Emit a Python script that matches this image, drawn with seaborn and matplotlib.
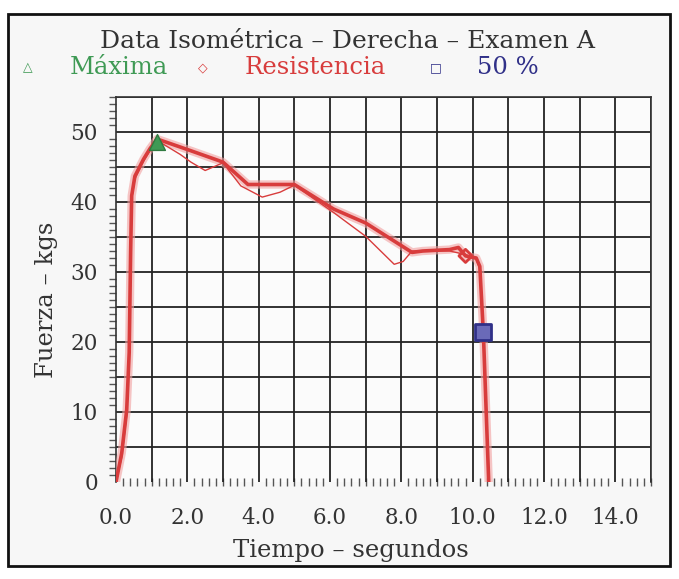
import numpy as np
import pandas as pd
import matplotlib
matplotlib.use("Agg")
import matplotlib.pyplot as plt
import seaborn as sns
from matplotlib.patches import Rectangle

# ---- data ----
t_main = [0, 0.05, 0.16, 0.30, 0.37, 0.41, 0.44, 0.53, 0.77, 0.95, 1.15, 2.0, 3.0, 3.7, 4.2,
          5.0, 6.1, 7.0, 8.3, 8.6, 9.35, 9.6, 9.8, 10.1, 10.2, 10.3, 10.45]
f_main = [0, 1.3, 4.1, 10.3, 18.5, 32.8, 40.9, 43.7, 46.1, 47.6, 49.0, 47.5, 45.7, 42.5, 42.5,
          42.5, 39.0, 37.0, 32.8, 33.0, 33.2, 33.5, 32.3, 32.0, 30.8, 21.3, 0]

t_thin = [0, 0.16, 0.30, 0.37, 0.41, 0.44, 0.53, 0.77, 0.95, 1.15, 1.8, 2.1, 2.5, 3.0, 3.5,
          4.1, 4.6, 5.0, 6.1, 7.0, 7.8, 8.05, 8.3, 9.35, 9.8, 10.1, 10.2, 10.3, 10.45]
f_thin = [0, 3.5, 9.5, 17.5, 31.5, 40.5, 43.3, 45.8, 47.3, 48.8, 46.8, 45.7, 44.5, 45.6, 42.3,
          40.7, 41.4, 42.4, 38.5, 35.1, 31.1, 31.5, 33.0, 33.0, 32.5, 31.8, 30.5, 21.0, 0]

marker_names = ["Máxima", "Resistencia", "50 %"]
marker_t = [1.15, 9.8, 10.3]
marker_f = [48.6, 32.3, 21.4]

x_ticks = [0, 2, 4, 6, 8, 10, 12, 14]
x_labels = ["0.0", "2.0", "4.0", "6.0", "8.0", "10.0", "12.0", "14.0"]
y_ticks = [0, 10, 20, 30, 40, 50]

title = "Data Isométrica – Derecha – Examen A"
xlabel = "Tiempo – segundos"
ylabel = "Fuerza – kgs"

# ---- style ----
sns.set_theme(style="white")
FONT = ["DejaVu Serif", "DejaVu Sans"]
plt.rcParams["font.family"] = FONT

fig = plt.figure(figsize=(6.79, 5.79), dpi=100)
fig.patch.set_facecolor("white")
ax = fig.add_axes([116/679, 1-482/579, (651-116)/679, (482-97)/579])
ax.set_facecolor("#fbfbfb")

RED = "#d83c3c"
GREEN = "#3f9a55"
BLUE = "#303088"
TXT = "#333333"

df_main = pd.DataFrame({"t": t_main, "f": f_main})
df_thin = pd.DataFrame({"t": t_thin, "f": f_thin})
sns.lineplot(data=df_main, x="t", y="f", ax=ax, color="#f2a0a0", linewidth=6, sort=False, alpha=0.6, zorder=3)
sns.lineplot(data=df_main, x="t", y="f", ax=ax, color=RED, linewidth=2.6, sort=False, zorder=4)
sns.lineplot(data=df_thin, x="t", y="f", ax=ax, color=RED, linewidth=1.0, sort=False, zorder=4)

df_m = pd.DataFrame({"t": marker_t, "f": marker_f, "k": marker_names})
sns.scatterplot(data=df_m.iloc[[0]], x="t", y="f", ax=ax, marker="^", s=130, color=GREEN,
                edgecolor="#2f7a40", linewidth=1, zorder=6, legend=False)
sns.scatterplot(data=df_m.iloc[[1]], x="t", y="f", ax=ax, marker="D", s=45, facecolor="none",
                edgecolor=RED, linewidth=2, zorder=6, legend=False)
sns.scatterplot(data=df_m.iloc[[2]], x="t", y="f", ax=ax, marker="s", s=120, facecolor="#6a6ab8",
                edgecolor=BLUE, linewidth=2, zorder=6, legend=False)

ax.set_xlim(0, 15)
ax.set_ylim(0, 55)
ax.set_xticks(x_ticks)
ax.set_xticklabels(x_labels)
ax.set_yticks(y_ticks)
ax.set_xticks(np.arange(0, 15.01, 0.2), minor=True)
ax.set_yticks(np.arange(0, 55.01, 1), minor=True)
ax.tick_params(axis="both", which="major", length=0, labelsize=15.5, colors=TXT)
ax.tick_params(axis="x", which="major", pad=18)
ax.tick_params(axis="y", which="major", pad=13)
ax.tick_params(axis="x", which="minor", bottom=True, length=6, width=1, direction="inout", color="#555555")
ax.tick_params(axis="y", which="minor", left=True, length=5, width=1, direction="out", color="#555555")
ax.set_xlabel("")
ax.set_ylabel("")

for v in np.arange(1, 15.01, 1):
    ax.axvline(v, color="#222222", linewidth=1.3, zorder=1)
for h in np.arange(5, 55.01, 5):
    ax.axhline(h, color="#222222", linewidth=1.3, zorder=1)
for s in ["left", "top", "right"]:
    ax.spines[s].set_color("#333333")
    ax.spines[s].set_linewidth(1.2)
ax.spines["bottom"].set_visible(False)

# titles / labels
fig.text(347/679, 1-42/579, title, ha="center", va="center", fontsize=18, color=TXT)
fig.text(351/679, 1-550/579, xlabel, ha="center", va="center", fontsize=17.5, color=TXT)
fig.text(47/679, 1-300/579, ylabel, ha="center", va="center", fontsize=17.5, color=TXT, rotation=90)

# legend row
LY = 1 - 68/579
fig.text(28/679, LY, "△", ha="center", va="center", fontsize=9, color=GREEN, family=["DejaVu Sans"])
fig.text(70/679, LY, marker_names[0], ha="left", va="center", fontsize=17.5, color=GREEN)
fig.text(203/679, LY, "◇", ha="center", va="center", fontsize=9, color=RED, family=["DejaVu Sans"])
fig.text(245/679, LY, marker_names[1], ha="left", va="center", fontsize=17.5, color=RED)
fig.text(436/679, LY, "□", ha="center", va="center", fontsize=9, color=BLUE, family=["DejaVu Sans"])
fig.text(477/679, LY, marker_names[2], ha="left", va="center", fontsize=17.5, color=BLUE)

# outer frame
fig.patches.append(Rectangle((8/679, 1-566/579), (670-8)/679, (566-14)/579,
                             transform=fig.transFigure, fill=True, facecolor="#f7f7f7",
                             edgecolor="#111111", linewidth=2, zorder=-10))

fig.savefig("out.png", dpi=100)
